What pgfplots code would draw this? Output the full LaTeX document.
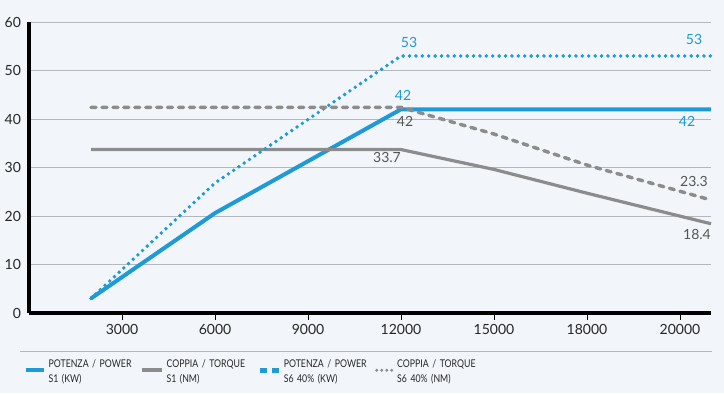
\documentclass[border=0pt]{standalone}
\usepackage{fontspec}
\setmainfont{Lato}
\newfontfamily\legfont[FakeStretch=0.82]{Lato}
\usepackage{pgfplots}
\pgfplotsset{compat=1.18}
\definecolor{bg}{HTML}{F2F6FB}
\definecolor{pblue}{HTML}{1E9AD6}
\definecolor{tgray}{HTML}{8C8C8C}
\definecolor{gridc}{HTML}{B4B8BC}
\definecolor{lblgray}{HTML}{555555}
\newcommand{\tickfont}{\fontsize{10.5}{12}\selectfont}
\begin{document}
\begin{tikzpicture}
\fill[bg] (-21.75pt,-60pt) rectangle (521.25pt,234.75pt);
\begin{axis}[
  at={(0pt,0pt)}, anchor=south west,
  scale only axis, width=511.5pt, height=218.25pt,
  xmin=0, xmax=22000, ymin=0, ymax=60,
  axis x line=bottom, axis y line=left,
  axis line style={line width=3pt, -, black},
  xtick={3000,6000,9000,12000,15000,18000,21000},
  xticklabels={3000,6000,9000,12000,15000,18000,20000},
  scaled x ticks=false,
  ytick={0,10,...,60},
  xtick align=outside,
  major tick length=5pt,
  x tick style={black, line width=0.6pt},
  y tick style={draw=none},
  ymajorgrids, grid style={gridc, line width=0.6pt},
  tick label style={font=\tickfont, text=black!85},
  /pgf/number format/assume math mode=true,
  clip=false,
  legend columns=4,
  legend style={at={(axis description cs:0,0)}, anchor=north west, xshift=-4pt, yshift=-33.5pt,
    draw=none, fill=none, inner sep=0pt,
    font=\legfont\fontsize{8}{11.2}\selectfont,
    /tikz/every even column/.append style={column sep=0pt},
    nodes={align=left, text width=66.5pt, inner xsep=2pt, inner ysep=1pt, text=black!85}},
  legend cell align=left,
]
\addplot[pblue, line width=3pt, line join=round,
  legend image code/.code={\path[draw=none, fill=none] (0pt,-6pt) (14.5pt,2pt);
    \draw[pblue, line width=3pt, line cap=butt, solid] (0pt,-4.5pt) -- (13.5pt,-4.5pt);}]
  coordinates {(2000,3) (6000,20.6) (12000,42) (22000,42)};
\addlegendentry{POTENZA / POWER\\S1 (KW)}
\addplot[tgray, line width=2.4pt, line join=round,
  legend image code/.code={\path[draw=none, fill=none] (0pt,-6pt) (14.5pt,2pt);
    \draw[tgray, line width=3pt, line cap=butt, solid] (0pt,-4.5pt) -- (15pt,-4.5pt);}]
  coordinates {(2000,33.7) (12000,33.7) (15000,29.6) (18000,24.7) (22000,18.4)};
\addlegendentry{COPPIA / TORQUE\\S1 (NM)}
\addplot[pblue, line width=2.9pt, line cap=round, dash pattern=on 0pt off 4.8pt,
  legend image code/.code={\path[draw=none, fill=none] (0pt,-6pt) (14.5pt,2pt);
    \draw[pblue, line width=3.8pt, line cap=butt, dash pattern=on 4.9pt off 3.8pt] (0pt,-4.5pt) -- (13.6pt,-4.5pt);}]
  coordinates {(2000,3) (6000,26.8) (12000,53) (22000,53)};
\addlegendentry{POTENZA / POWER\\S6 40\% (KW)}
\addplot[tgray, line width=2.6pt, line cap=round, dash pattern=on 3.8pt off 4.4pt,
  legend image code/.code={\path[draw=none, fill=none] (0pt,-6pt) (14.5pt,2pt);
    \draw[tgray, line width=2.4pt, line cap=round, dash pattern=on 0pt off 3.75pt] (1.2pt,-4.5pt) -- (12.6pt,-4.5pt);}]
  coordinates {(2000,42.4) (12000,42.4) (15000,36.9) (18000,30.5) (22000,23.3)};
\addlegendentry{COPPIA / TORQUE\\S6 40\% (NM)}
\node[font=\tickfont, text=pblue] at (axis cs:12258,55.7) {53};
\node[font=\tickfont, text=pblue] at (axis cs:21452,56.3) {53};
\node[font=\tickfont, text=pblue] at (axis cs:12065,44.9) {42};
\node[font=\tickfont, text=lblgray] at (axis cs:12129,39.4) {42};
\node[font=\tickfont, text=pblue] at (axis cs:21226,39.4) {42};
\node[font=\tickfont, text=lblgray] at (axis cs:11548,32.0) {33.7};
\node[font=\tickfont, text=lblgray] at (axis cs:21452,27.2) {23.3};
\node[font=\tickfont, text=lblgray] at (axis cs:21548,16.1) {18.4};
\end{axis}
\draw[gridc, line width=0.75pt] (-6.75pt,-28.5pt) -- (512.25pt,-28.5pt);
\end{tikzpicture}
\end{document}
